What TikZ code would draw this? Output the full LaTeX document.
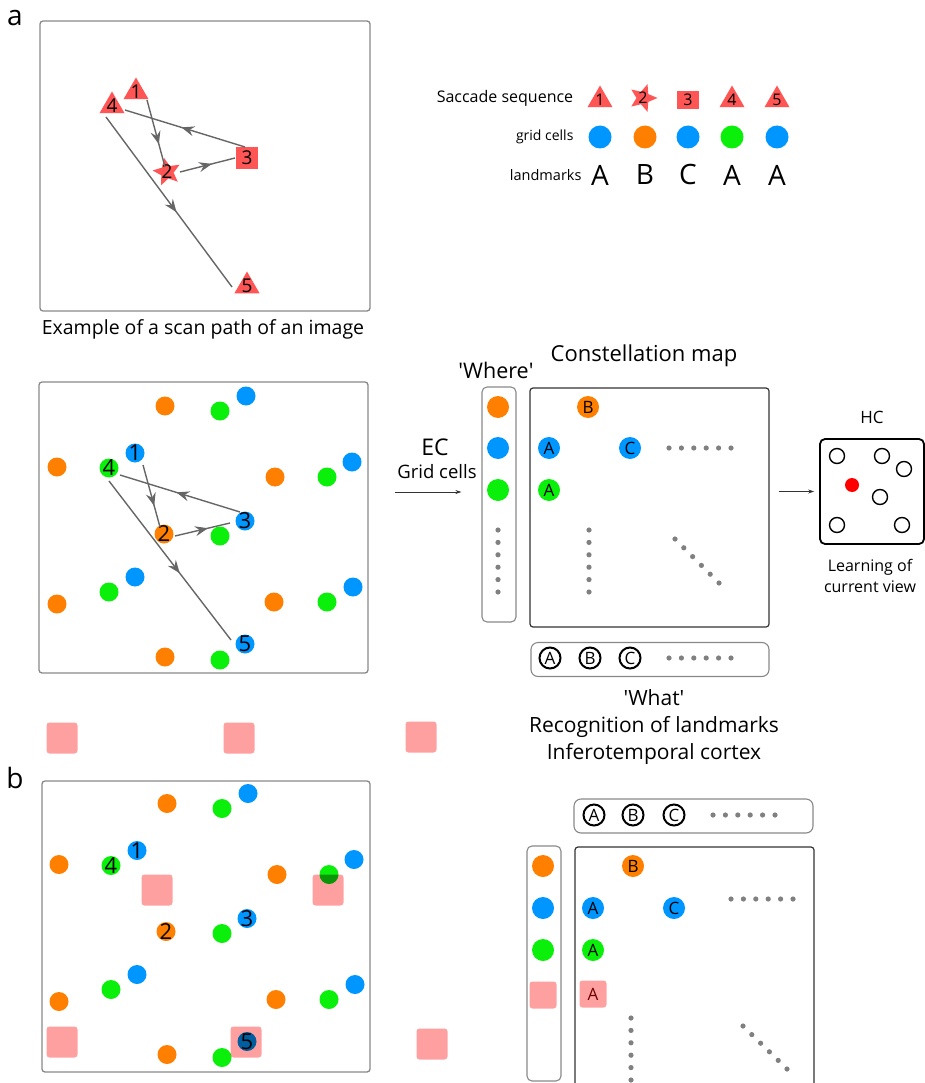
\documentclass[tikz,border=0pt]{standalone}
\usepackage{fontspec}
\setmainfont{Open Sans}
\usetikzlibrary{arrows.meta, positioning, shapes.geometric, decorations.markings}

\definecolor{gblue}{RGB}{0,150,255}
\definecolor{gorange}{RGB}{255,128,0}
\definecolor{ggreen}{RGB}{10,240,10}
\definecolor{mred}{RGB}{255,85,85}
\definecolor{lpink}{RGB}{255,160,160}
\definecolor{pathgray}{RGB}{102,102,102}
\definecolor{dotgray}{RGB}{128,128,128}
\definecolor{framegray}{RGB}{136,136,136}
\definecolor{darkframe}{RGB}{51,51,51}
\definecolor{pinktext}{RGB}{110,0,0}

\newcommand{\fsz}[2]{\fontsize{#1}{#2}\selectfont}

% field of grid cells (drawn in the middle panel and again in panel b)
\newcommand{\gridfield}{%
  \fill[gorange] (165,406) circle (9.5pt) (57,467) circle (9.5pt) (275,477) circle (9.5pt)
                 (57,604) circle (9.5pt) (274,602) circle (9.5pt) (165,657) circle (9.5pt);
  \fill[ggreen]  (220,411) circle (9.5pt) (327,477) circle (9.5pt) (220,536) circle (9.5pt)
                 (109,592) circle (9.5pt) (327,602) circle (9.5pt) (220,660) circle (9.5pt);
  \fill[gblue]   (246,396) circle (9.5pt) (352,462) circle (9.5pt) (135,577) circle (9.5pt)
                 (353,587) circle (9.5pt);
  \node[dot=gblue,   num=1] (g1) at (135,453) {};
  \node[dot=ggreen,  num=4] (g4) at (109,468) {};
  \node[dot=gblue,   num=3] (g3) at (245,521) {};
  \node[dot=gorange, num=2] (g2) at (164,534) {};
  \node[dot=gblue,   num=5] (g5) at (245,644) {};
}

\begin{document}
\begin{tikzpicture}[x=1pt, y=-1pt,
    panel/.style={draw=framegray, line width=1.3pt, rounded corners=3pt, inner sep=0pt},
    column/.style={draw=framegray, line width=1.1pt, rounded corners=5pt, inner sep=0pt,
        minimum width=34pt, minimum height=235pt},
    mapbox/.style={draw=darkframe, line width=1.2pt, rounded corners=3pt, inner sep=0pt,
        minimum width=239pt, minimum height=239pt},
    strip/.style={draw=framegray, line width=1.1pt, rounded corners=7pt, inner sep=0pt,
        minimum width=238pt, minimum height=34pt},
    marker/.style={fill=mred, inner sep=0pt},
    dot/.style={circle, fill=#1, minimum size=19pt, inner sep=0pt},
    num/.style={label={[font=\fsz{22}{22}, inner sep=0pt]center:#1}},
    numa/.style={label={[font=\fsz{19}{19}, inner sep=0pt]center:#1}},
    numl/.style={label={[font=\fsz{16}{16}, inner sep=0pt]center:#1}},
    cell/.style={circle, fill=#1, minimum size=22pt, inner sep=0pt, font=\fsz{17}{17}},
    ring/.style={circle, draw=black, line width=2pt, minimum size=21pt, inner sep=0pt,
        font=\fsz{17}{17}},
    open/.style={circle, draw=black, line width=1.4pt, minimum size=15pt, inner sep=0pt},
    pinkbox/.style={fill=lpink, rounded corners=3pt, inner sep=0pt, minimum size=#1},
    scanpath/.style={draw=pathgray, line width=1.4pt},
    midarrow/.style={postaction={decorate}, decoration={markings,
        mark=at position #1 with {\arrow[pathgray]{Stealth[length=13pt, width=10pt, inset=4.5pt]}}}},
    thinarrow/.style={-{Stealth[length=6pt, width=4pt]}, draw=darkframe, line width=0.7pt}
]
\useasboundingbox (0,0) rectangle (925,1083);

% ============================================================
%  panel a : scan path of an image
% ============================================================
\node[font=\fsz{28}{28}] (tagA) at (15,18) {a};
\node[panel, minimum width=330pt, minimum height=290pt] (pa) at (205,166) {};
\node[font=\fsz{19.5}{19.5}] (caption) at (203,329) {Example of a scan path of an image};

\node[regular polygon, regular polygon sides=3, marker, minimum size=29pt, numa=1] (a1) at (136,92) {};
\node[regular polygon, regular polygon sides=3, marker, minimum size=29pt, numa=4] (a4) at (112,106) {};
\node[star, star points=5, star point ratio=2.2, shape border rotate=12, marker, minimum size=29pt, numa=2] (a2) at (167,172) {};
\node[rectangle, marker, minimum size=22pt, numa=3] (a3) at (247,158) {};
\node[regular polygon, regular polygon sides=3, marker, minimum size=29pt, numa=5] (a5) at (247,286) {};

\draw[scanpath, midarrow=0.66] ([shift={(11,8)}]a1.center) -- ([shift={(-2,-5)}]a2.center);
\draw[scanpath, midarrow=0.58] ([shift={(13,0)}]a2.center) -- ([shift={(-12,0)}]a3.center);
\draw[scanpath, midarrow=0.53] ([shift={(-2,-11)}]a3.center) -- ([shift={(13,4)}]a4.center);
\draw[scanpath, midarrow=0.56] ([shift={(-6,11)}]a4.center) -- ([shift={(-15,1)}]a5.center);

% --- legend ---
\node[font=\fsz{16}{16}] (seqlabel) at (505,98) {Saccade sequence};
\node[font=\fsz{14}{14}, anchor=east] (gridlabel) at (577,137) {grid cells};
\node[font=\fsz{14.5}{14.5}, anchor=east] (lmlabel) at (585,175) {landmarks};

\node[regular polygon, regular polygon sides=3, marker, minimum size=29pt, numl=1] (s1) at (600,100) {};
\node[star, star points=5, star point ratio=2.2, shape border rotate=-18, marker, minimum size=29pt, numl=2] (s2) at (643,98) {};
\node[rectangle, marker, minimum width=22pt, minimum height=18pt, numl=3] (s3) at (688,100) {};
\node[regular polygon, regular polygon sides=3, marker, minimum size=29pt, numl=4] (s4) at (732,100) {};
\node[regular polygon, regular polygon sides=3, marker, minimum size=29pt, numl=5] (s5) at (777,100) {};

\node[cell=gblue, minimum size=23pt]   (c1) at (600,137) {};
\node[cell=gorange, minimum size=23pt] (c2) at (645,137) {};
\node[cell=gblue, minimum size=23pt]   (c3) at (688,137) {};
\node[cell=ggreen, minimum size=23pt]  (c4) at (732,137) {};
\node[cell=gblue, minimum size=23pt]   (c5) at (777,137) {};

\node[font=\fsz{28}{28}] (l1) at (600,175) {A};
\node[font=\fsz{28}{28}] (l2) at (645,175) {B};
\node[font=\fsz{28}{28}] (l3) at (688,175) {C};
\node[font=\fsz{28}{28}] (l4) at (732,175) {A};
\node[font=\fsz{28}{28}] (l5) at (777,175) {A};

% ============================================================
%  middle : grid cells, constellation map, HC
% ============================================================
\node[panel, minimum width=329pt, minimum height=291pt] (pm) at (203.5,527.5) {};
\gridfield
\draw[scanpath, midarrow=0.66] ([shift={(8,12)}]g1.center) -- ([shift={(-4,-7)}]g2.center);
\draw[scanpath, midarrow=0.6] ([shift={(11,2)}]g2.center) -- ([shift={(-15,2)}]g3.center);
\draw[scanpath, midarrow=0.53] ([shift={(-5,-9)}]g3.center) -- ([shift={(11,7)}]g4.center);
\draw[scanpath, midarrow=0.58] ([shift={(0,13)}]g4.center) -- ([shift={(-14,-4)}]g5.center);

% --- EC / where ---
\node[font=\fsz{23}{23}] (ec) at (435,447) {EC};
\node[font=\fsz{18.5}{18.5}] (gridcells) at (437,472) {Grid cells};
\node[font=\fsz{21.5}{21.5}] (wheretitle) at (496,370) {\textquotesingle Where\textquotesingle};
\node[column] (where) at (499,504.5) {};
\node[cell=gorange] (w1) at (498,407) {};
\node[cell=gblue]   (w2) at (498,448) {};
\node[cell=ggreen]  (w3) at (498,490) {};
\foreach \i in {0,...,5} \fill[dotgray] (498,530+12.4*\i) circle (2.6pt);
\coordinate (ecin) at (395,492);
\draw[thinarrow, shorten >=20pt] (ecin) -- (where.west |- ecin);

% --- constellation map ---
\node[font=\fsz{22}{22}] (maptitle) at (644,356) {Constellation map};
\node[mapbox] (map) at (649.5,507.5) {};
\node[cell=gorange] (mB)  at (588,407) {B};
\node[cell=gblue]   (mA1) at (549,448) {A};
\node[cell=gblue]   (mC)  at (630,448) {C};
\node[cell=ggreen]  (mA2) at (549,490) {A};
\foreach \i in {0,...,5} {
  \fill[dotgray] (669+12.4*\i,448) circle (2.6pt);
  \fill[dotgray] (589,530+12.4*\i) circle (2.6pt);
  \fill[dotgray] (675+8.8*\i,539+8.8*\i) circle (2.6pt);
}

% --- what strip ---
\node[strip] (what) at (650,659.5) {};
\node[ring] (rA) at (550,658) {A};
\node[ring] (rB) at (590,658) {B};
\node[ring] (rC) at (630,658) {C};
\foreach \i in {0,...,5} \fill[dotgray] (669+12.4*\i,658) circle (2.6pt);
\node[font=\fsz{21}{27}, align=center] (whattext) at (654,727)
  {\textquotesingle What\textquotesingle\\Recognition of landmarks\\Inferotemporal cortex};

% --- HC ---
\node[font=\fsz{17}{17}] (hctitle) at (872,417) {HC};
\node[draw=black, line width=1.8pt, rounded corners=5pt, minimum width=104pt, minimum height=105pt] (hc) at (872,491.5) {};
\node[open] (h1) at (837,456) {};
\node[open] (h2) at (882,456) {};
\node[open] (h3) at (904,469) {};
\node[open] (h4) at (880,497) {};
\node[open] (h5) at (837,525) {};
\node[open] (h6) at (902,525) {};
\node[circle, fill=red, minimum size=14pt, inner sep=0pt] (hred) at (852,485) {};
\node[font=\fsz{16}{21}, align=center] (hctext) at (870,576) {Learning of\\current view};
\draw[thinarrow, shorten <=9pt, shorten >=5pt] (map.east |- hc.west) -- (hc.west);

% ============================================================
%  panel b : landmarks added
% ============================================================
\node[font=\fsz{28}{28}] (tagB) at (15,778) {b};
\node[panel, minimum width=328pt, minimum height=291pt] (pb) at (206,926.5) {};
\begin{scope}[shift={(2,397.5)}, name prefix=b-]
  \gridfield
\end{scope}
\begin{scope}[blend mode=multiply]
  \node[pinkbox=31pt] (lm1) at (62,738) {};
  \node[pinkbox=31pt] (lm2) at (239,738) {};
  \node[pinkbox=31pt] (lm3) at (421,737) {};
  \node[pinkbox=31pt] (lm4) at (157,890) {};
  \node[pinkbox=31pt] (lm5) at (328,890) {};
  \node[pinkbox=31pt] (lm6) at (62,1042) {};
  \node[pinkbox=31pt] (lm7) at (246,1042) {};
  \node[pinkbox=31pt] (lm8) at (432,1044) {};
\end{scope}

% --- what strip (top) ---
\node[strip, minimum width=239pt] (bwhat) at (693.5,816) {};
\node[ring] (brA) at (594,815) {A};
\node[ring] (brB) at (633,815) {B};
\node[ring] (brC) at (674,815) {C};
\foreach \i in {0,...,5} \fill[dotgray] (713+12.4*\i,815) circle (2.6pt);

% --- where column ---
\node[column] (bwhere) at (544,963.5) {};
\node[cell=gorange] (bw1) at (543,866) {};
\node[cell=gblue]   (bw2) at (543,908) {};
\node[cell=ggreen]  (bw3) at (543,950) {};
\node[pinkbox=27pt] (bw4) at (543,995) {};

% --- constellation map ---
\node[mapbox] (bmap) at (694.5,966.5) {};
\node[cell=gorange] (bmB)  at (633,866) {B};
\node[cell=gblue]   (bmA1) at (593,908) {A};
\node[cell=gblue]   (bmC)  at (674,908) {C};
\node[cell=ggreen]  (bmA2) at (593,950) {A};
\node[pinkbox=27pt, font=\fsz{17}{17}, text=pinktext] (bmA3) at (593,994) {A};
\foreach \i in {0,...,5} {
  \fill[dotgray] (731+12.4*\i,899) circle (2.6pt);
  \fill[dotgray] (631,1018+12.4*\i) circle (2.6pt);
  \fill[dotgray] (743+8.8*\i,1026+8.6*\i) circle (2.6pt);
}

\end{tikzpicture}
\end{document}
